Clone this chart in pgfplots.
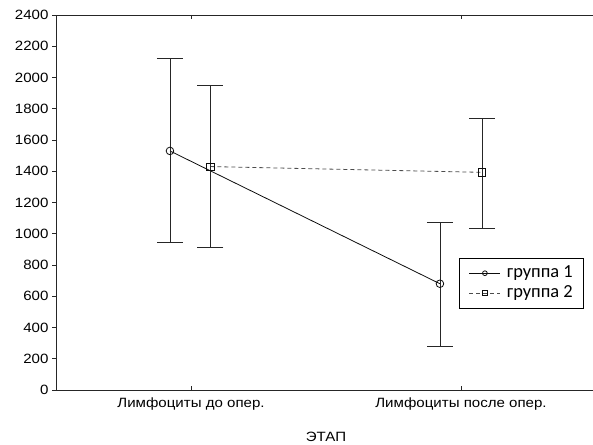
\documentclass[border=0pt]{standalone}
\usepackage{pgfplots}
\pgfplotsset{compat=1.18}
\usepackage{pgfplotstable}
\usepackage{fontspec}
\setmainfont[FakeStretch=1.12]{Liberation Sans}
\newfontfamily\legfont{Carlito}

% x: category index (0 = до, 1 = после) with a small offset per group
\pgfplotstableread{
x      y    ep  em
-0.078 1530 590 583
0.922  680  395 400
}\groupone
\pgfplotstableread{
x      y    ep  em
0.072  1430 522 515
1.078  1393 348 356
}\grouptwo

\begin{document}
\begin{tikzpicture}
\begin{axis}[
  scale only axis,
  width=540bp, height=375bp,
  xmin=-0.5, xmax=1.5,
  ymin=0, ymax=2400,
  ytick={0,200,...,2400},
  xtick={0,1},
  xticklabels={Лимфоциты до опер., Лимфоциты после опер.},
  xlabel={ЭТАП},
  xtick align=inside, ytick align=outside,
  major tick length=4bp,
  axis line style={black!85, line width=0.8bp},
  tick style={black!85, line width=0.6bp},
  ticklabel style={font=\fontsize{13.5}{15}\selectfont},
  xticklabel style={yshift=-4bp},
  /pgf/number format/assume math mode=true,
  yticklabel style={/pgf/number format/1000 sep={}},
  xlabel style={font=\fontsize{13.5}{15}\selectfont, at={(axis description cs:0.5,0)}, anchor=center, yshift=-47bp},
  legend style={at={(0.978,0.217)}, anchor=south east,
    font=\legfont\fontsize{18.5}{21}\selectfont,
    draw=black, line width=0.8bp, inner xsep=9bp, inner ysep=7bp,
    row sep=4bp, column sep=4bp,
    nodes={inner xsep=2bp, inner ysep=1bp, text height=11bp, text depth=3bp}},
  legend cell align=left,
  legend image code/.code={%
    \draw[mark repeat=2,mark phase=2, mark size=2.4bp, line width=0.9bp] plot coordinates {(0cm,0cm) (0.55cm,0cm) (1.1cm,0cm)};},
]
\addplot[black!95, line width=0.8bp, mark=o, mark size=3.8bp,
  mark options={solid, fill=white, line width=0.8bp},
  error bars/.cd, y dir=both, y explicit,
  error bar style={solid, black!85, line width=0.8bp},
  error mark options={rotate=90, mark size=13bp, solid, black!85, line width=0.8bp}]
  table[x=x, y=y, y error plus=ep, y error minus=em]{\groupone};
\addlegendentry{группа 1}
\addplot[black!70, line width=0.8bp, dash pattern=on 4bp off 3bp, mark=square, mark size=3.6bp,
  mark options={solid, black!95, fill=white, line width=0.8bp},
  error bars/.cd, y dir=both, y explicit,
  error bar style={solid, black!85, line width=0.8bp},
  error mark options={rotate=90, mark size=13bp, solid, black!85, line width=0.8bp}]
  table[x=x, y=y, y error plus=ep, y error minus=em]{\grouptwo};
\addlegendentry{группа 2}
\end{axis}
\pgfresetboundingbox
\path ([xshift=-56bp, yshift=-55bp]current axis.south west) rectangle ([xshift=-3bp, yshift=15bp]current axis.north east);
\end{tikzpicture}
\end{document}
